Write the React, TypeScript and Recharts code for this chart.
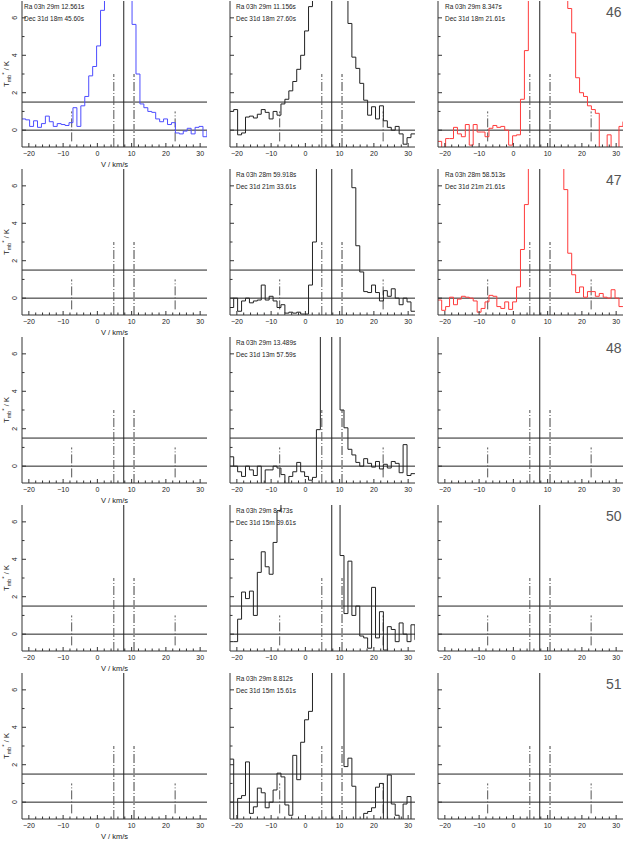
import { ComposedChart, Line, XAxis, YAxis, ReferenceLine } from "recharts";

// channel velocities, km/s (LSR)
const velocity = [
  -22.65, -21.5, -20.35, -19.2, -18.05, -16.9, -15.75, -14.6, -13.45, -12.3,
  -11.15, -10.0, -8.85, -7.7, -6.55, -5.4, -4.25, -3.1, -1.95, -0.8,
  0.35, 1.5, 2.65, 3.8, 4.95, 6.1, 7.25, 8.4, 9.55, 10.7,
  11.85, 13.0, 14.15, 15.3, 16.45, 17.6, 18.75, 19.9, 21.05, 22.2,
  23.35, 24.5, 25.65, 26.8, 27.95, 29.1, 30.25, 31.4, 32.55,
];

// T_mb* (K) per position
const tmb46a = [
  0.6, 0.6, 0.55, 0.2, 0.5, 0.15, 0.35, 0.75, 0.45, 0.2,
  0.35, 0.3, 0.25, 0.4, 1.2, 0.2, 1.3, 1.8, 2.9, 3.4,
  4.5, 6.4, 9.5, 12, 14, 15, 15, 14, 11, 5.65,
  3.0, 1.4, 1.2, 1.0, 0.95, 0.6, 0.45, 0.6, 0.3, 0.4,
  -0.15, -0.2, -0.05, 0.1, -0.2, 0.15, 0.2, -0.35, -0.05,
];
const tmb46b = [
  1.0, 1.0, 1.1, -0.25, -0.15, 0.7, 0.75, 0.65, 0.85, 1.1,
  0.95, 0.6, 1.0, 0.8, 1.4, 1.65, 2.1, 2.6, 3.25, 4.0,
  5.3, 6.6, 8.5, 10, 11, 12, 12, 11, 10, 9,
  8.5, 5.7, 3.9, 3.3, 2.5, 1.6, 0.8, 1.25, 0.6, 1.3,
  0.5, 0.15, 0.0, 0.2, -0.2, -0.75, -0.4, -0.2, -0.2,
];
const tmb46c = [
  -0.6, -0.6, -1.2, -0.45, -0.45, 0.15, -0.2, -0.35, 0.3, -0.8,
  0.3, -0.1, -0.1, -0.35, 0.1, 0.25, 0.15, 0.2, 0.0, -0.8,
  -0.3, -0.25, 1.65, 4.25, 9, 11, 12, 12, 12, 11,
  10, 9, 8.5, 7.8, 6.5, 5.2, 2.8, 2.0, 1.8, 1.3,
  1.1, 0.9, -1.2, -1.2, -0.25, -1.2, -1.2, 0.2, 0.45,
];
const tmb47b = [
  -0.5, -0.5, 0.0, -0.7, -0.15, 0.0, -0.25, -0.15, -0.1, 0.7,
  -0.1, 0.1, -0.15, -0.5, -0.35, -0.8, -0.75, -0.8, -0.75, -0.85,
  -0.85, 0.7, 3.0, 9, 10, 11, 12, 12, 11, 10,
  9, 8, 5.9, 2.8, 1.4, 0.35, 0.3, 0.7, 0.3, -0.15,
  0.4, 0.1, 0.5, 0.0, -0.35, 0.0, -0.2, -0.7, -0.7,
];
const tmb47c = [
  -0.1, -0.1, -0.65, -0.45, 0.05, -0.35, -0.05, 0.1, 0.05, 0.0,
  -0.15, -0.75, -0.55, -0.2, 0.15, 0.1, -0.45, -0.55, -0.2, -0.6,
  -0.2, 0.6, 2.6, 5.0, 9, 11, 12, 12, 12, 11,
  10, 9, 8, 5.8, 2.4, 1.25, 0.3, 0.6, 0.05, 0.35,
  0.35, 0.1, 0.25, 0.05, 0.0, 0.45, 0.0, -0.45, -0.45,
];
const tmb48b = [
  0.5, 0.5, 0.0, -0.3, -0.55, 0.0, -0.2, -0.5, 0.0, -1.2,
  -0.2, -0.2, 0.0, -0.1, -0.45, -1.2, -0.55, -0.3, 0.2, -0.3,
  -0.55, -0.75, -0.6, 1.95, 9, 11, 12, 11, 9, 3.0,
  2.05, 0.9, 0.6, 0.2, 0.0, 0.4, 0.15, -0.05, 0.25, -0.15,
  0.1, -0.1, 0.25, 0.15, -0.35, 1.15, -0.5, -0.4, -0.4,
];
const tmb50b = [
  -0.4, -0.4, -0.4, 0.8, 2.25, 1.9, 2.3, 1.0, 3.3, 4.4,
  3.6, 3.2, 4.9, 6.6, 9, 10, 11, 12, 12, 12,
  12, 12, 12, 11, 11, 10, 10, 9, 9, 4.2,
  1.1, 3.9, 1.0, 1.5, -0.1, -0.2, -0.75, 2.5, -0.2, 1.2,
  -0.85, 0.4, 0.25, -0.4, 0.6, 0.0, -0.4, 0.5, -0.3,
];
const tmb51b = [
  2.3, 2.3, -1.2, 0.2, 0.35, 2.15, -0.6, -0.25, 0.75, 0.5,
  -0.3, 0.0, 0.65, 1.55, 1.35, -0.15, -0.7, 2.5, 1.2, 3.2,
  4.4, 4.85, 9, 10, 11, 11, 11, 10, 10, 9,
  1.9, 2.35, 0.85, -1.2, -1.2, -0.6, -0.5, -0.3, 0.8, 1.0,
  -1.2, 1.45, -0.1, -0.7, -1.2, -0.1, 0.3, -1.2, -1.2,
];

const spectra = [
  [tmb46a, tmb46b, tmb46c],
  [null, tmb47b, tmb47c],
  [null, tmb48b, null],
  [null, tmb50b, null],
  [null, tmb51b, null],
];

const rowIds = ["46", "47", "48", "50", "51"];
const raLabels = [
  ["Ra 03h 29m 12.561s", "Ra 03h 29m 11.156s", "Ra 03h 29m  8.347s"],
  ["", "Ra 03h 28m 59.918s", "Ra 03h 28m 58.513s"],
  ["", "Ra 03h 29m 13.489s", ""],
  ["", "Ra 03h 29m  8.473s", ""],
  ["", "Ra 03h 29m  8.812s", ""],
];
const decLabels = [
  ["Dec 31d 18m 45.60s", "Dec 31d 18m 27.60s", "Dec 31d 18m 21.61s"],
  ["", "Dec 31d 21m 33.61s", "Dec 31d 21m 21.61s"],
  ["", "Dec 31d 13m 57.59s", ""],
  ["", "Dec 31d 15m 39.61s", ""],
  ["", "Dec 31d 15m 15.61s", ""],
];

const levels = [0, 1.5];
const vSystemic = 7.7;
const lineVelocity = [-7.5, 4.8, 10.7, 22.7];
const lineTop = [1, 3, 3, 1];
const lineBottom = [-0.6, -0.9, -0.9, -0.6];

const xTicks = [-20, -18, -16, -14, -12, -10, -8, -6, -4, -2, 0, 2, 4, 6, 8, 10, 12, 14, 16, 18, 20, 22, 24, 26, 28, 30];
const yTicks = [0, 1, 2, 3, 4, 5, 6];

const FONT = "'Liberation Sans', Arial, Helvetica, sans-serif";
const FRAME = "#333";
const COL_X = [22, 230, 438];
const ROW_Y = [1, 169, 337, 505, 673];
const PW = 185;
const PH = 146;
const TEXT_DX = [2, 6, 7];

const isMajor = (v: number, step: number) => Math.abs(v % step) < 1e-6;
const fmt = (v: number) => (v < 0 ? `\u2212${-v}` : `${v}`);

const bottomTick = (p: any) => {
  const v = p.payload.value;
  const major = isMajor(v, 10);
  return (
    <g>
      <line x1={p.x} x2={p.x} y1={p.y} y2={p.y - (major ? 4 : 2.5)} stroke={FRAME} />
      {major && (
        <text x={p.x} y={p.y + 9} textAnchor="middle" fontSize={7} fontFamily={FONT} fill="#222">
          {fmt(v)}
        </text>
      )}
    </g>
  );
};

const topTick = (p: any) => {
  const major = isMajor(p.payload.value, 10);
  return <line x1={p.x} x2={p.x} y1={p.y} y2={p.y + (major ? 4 : 2.5)} stroke={FRAME} />;
};

const leftTick = (labeled: boolean) => (p: any) => {
  const v = p.payload.value;
  const major = isMajor(v, 2);
  return (
    <g>
      <line x1={p.x} x2={p.x + (major ? 4 : 2.5)} y1={p.y} y2={p.y} stroke={FRAME} />
      {labeled && major && (
        <text
          transform={`translate(${p.x - 5},${p.y}) rotate(-90)`}
          textAnchor="middle"
          fontSize={7}
          fontFamily={FONT}
          fill="#222"
        >
          {fmt(v)}
        </text>
      )}
    </g>
  );
};

const rightTick = (p: any) => {
  const major = isMajor(p.payload.value, 2);
  return <line x1={p.x} x2={p.x - (major ? 4 : 2.5)} y1={p.y} y2={p.y} stroke={FRAME} />;
};

function Panel({ row, col }: { row: number; col: number }) {
  const series = spectra[row][col];
  const data = velocity.map((v, i) => ({ v, t: series ? series[i] : null }));
  const color = row === 0 && col === 0 ? "#4d4dff" : col === 2 ? "#ff3b3b" : "#222";
  return (
    <div style={{ position: "absolute", left: COL_X[col] - 22, top: ROW_Y[row] - 2 }}>
      <ComposedChart width={209} height={172} data={data} margin={{ top: 2, right: 2, bottom: 0, left: 0 }}>
        <XAxis
          dataKey="v"
          type="number"
          domain={[-22, 32]}
          allowDataOverflow
          ticks={xTicks}
          interval={0}
          height={24}
          tickSize={0}
          tickMargin={0}
          tickLine={false}
          axisLine={{ stroke: FRAME }}
          tick={bottomTick}
        />
        <XAxis
          xAxisId="top"
          orientation="top"
          dataKey="v"
          type="number"
          domain={[-22, 32]}
          allowDataOverflow
          ticks={xTicks}
          interval={0}
          height={0}
          tickSize={0}
          tickMargin={0}
          tickLine={false}
          axisLine={{ stroke: FRAME }}
          tick={topTick}
        />
        <YAxis
          type="number"
          domain={[-0.9, 6.9]}
          allowDataOverflow
          ticks={yTicks}
          interval={0}
          width={22}
          tickSize={0}
          tickMargin={0}
          tickLine={false}
          axisLine={{ stroke: FRAME }}
          tick={leftTick(col === 0)}
        />
        <YAxis
          yAxisId="right"
          orientation="right"
          type="number"
          domain={[-0.9, 6.9]}
          allowDataOverflow
          ticks={yTicks}
          interval={0}
          width={0}
          tickSize={0}
          tickMargin={0}
          tickLine={false}
          axisLine={{ stroke: FRAME }}
          tick={rightTick}
        />
        {levels.map((y) => (
          <ReferenceLine key={`h${y}`} y={y} stroke="#222" />
        ))}
        <ReferenceLine x={vSystemic} stroke="#222" />
        {lineVelocity.map((v, i) => (
          <ReferenceLine
            key={`l${v}`}
            segment={[
              { x: v, y: lineBottom[i] },
              { x: v, y: lineTop[i] },
            ]}
            stroke={i === 2 ? "#888" : "#555"}
            strokeWidth={i === 2 ? 1.6 : 1}
            strokeDasharray="9 2 1 2"
          />
        ))}
        {series && (
          <Line dataKey="t" type="step" stroke={color} strokeWidth={1} dot={false} activeDot={false} isAnimationActive={false} />
        )}
      </ComposedChart>
    </div>
  );
}

export default function App() {
  const cells: { row: number; col: number }[] = [];
  ROW_Y.forEach((_, row) => COL_X.forEach((__, col) => cells.push({ row, col })));
  return (
    <div style={{ position: "absolute", left: 0, top: 0, width: 625, height: 842, overflow: "hidden", background: "#fff" }}>
      {cells.map(({ row, col }) => (
        <Panel key={`${row}-${col}`} row={row} col={col} />
      ))}
      <svg
        width={625}
        height={842}
        style={{ position: "absolute", left: 0, top: 0, pointerEvents: "none" }}
        fontFamily={FONT}
      >
        {ROW_Y.map((top, row) => (
          <g key={`t${row}`}>
            <text
              transform={`translate(${COL_X[0] - 13},${top + PH / 2}) rotate(-90)`}
              textAnchor="middle"
              fontSize={7.5}
              fill="#222"
            >
              T<tspan fontSize={5.5} dy={1.8}>mb</tspan>
              <tspan fontSize={6} dy={-4.5}>*</tspan>
              <tspan dy={2.7}> / K</tspan>
            </text>
            <text x={COL_X[0] + PW / 2} y={top + PH + 20} textAnchor="middle" fontSize={7.5} fill="#222">
              V / km/s
            </text>
            {COL_X.map((left, col) =>
              raLabels[row][col] ? (
                <g key={`i${col}`} fontSize={6.5} fill="#222" style={{ whiteSpace: "pre" }}>
                  <text x={left + TEXT_DX[col]} y={top + 8}>
                    {raLabels[row][col]}
                  </text>
                  <text x={left + TEXT_DX[col]} y={top + 19.5}>
                    {decLabels[row][col]}
                  </text>
                </g>
              ) : null
            )}
            <text x={COL_X[2] + PW - 1.5} y={top + 16} textAnchor="end" fontSize={14} fill="#555">
              {rowIds[row]}
            </text>
          </g>
        ))}
      </svg>
    </div>
  );
}
